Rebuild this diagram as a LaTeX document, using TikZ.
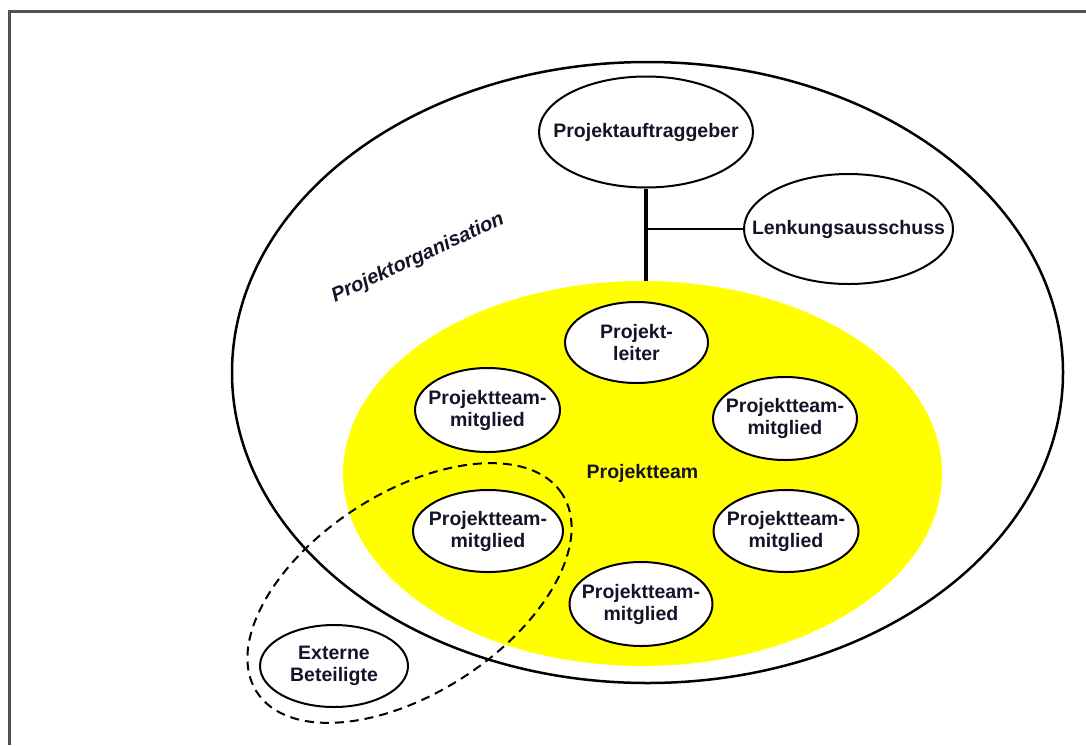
\documentclass[tikz,border=0pt]{standalone}
\usepackage{fontspec}
\setmainfont{Liberation Sans}
\usetikzlibrary{shapes.geometric}
\definecolor{teamyellow}{RGB}{255,255,0}
\definecolor{framegray}{RGB}{80,80,80}
\definecolor{txt}{RGB}{20,20,40}
\begin{document}
\begin{tikzpicture}[x=1pt,y=-1pt,
  lbl/.style={text=txt, align=center, inner sep=0pt, font=\fontsize{19.5}{22}\selectfont\bfseries},
  role/.style={ellipse, draw=black, line width=2pt, fill=white, inner sep=0pt,
    label={[lbl]center:#1}},
  big/.style={ellipse, inner sep=0pt}
]
\useasboundingbox (0,0) rectangle (1086,745);
\fill[white] (0,0) rectangle (1086,745);
\draw[framegray, line width=2.5pt] (9.5,745) -- (9.5,11.5) -- (1086,11.5);

\node[big, draw=black, line width=2.5pt, fill=white, minimum width=831pt, minimum height=621pt] (org) at (647.5,372.5) {};
\node[big, fill=teamyellow, minimum width=599pt, minimum height=385pt, label={[lbl]center:Projektteam}] (team) at (642.5,473.5) {};

\node[lbl, rotate=25, font=\fontsize{20}{24}\selectfont\bfseries\itshape] (orglabel) at (418,258) {Projektorganisation};

\node[role=Projektauftraggeber, minimum width=214pt, minimum height=111pt] (pa) at (646,132) {};
\node[role=Lenkungsausschuss, minimum width=209pt, minimum height=110pt] (lk) at (848.5,229) {};

\draw[line width=4.5pt] (pa.south) -- (pa.south |- team.north);
\draw[line width=2pt] (pa.south |- lk.west) -- (lk.west);

\node[role={Projekt-\\leiter}, minimum width=143pt, minimum height=81pt] (pl) at (636.5,342.5) {};
\node[role={Projektteam-\\mitglied}, minimum width=145pt, minimum height=84pt] (m1) at (487.5,410) {};
\node[role={Projektteam-\\mitglied}, minimum width=144pt, minimum height=83pt] (m2) at (785,418.5) {};
\node[role={Projektteam-\\mitglied}, minimum width=150pt, minimum height=82pt] (m3) at (488,531) {};
\node[role={Projektteam-\\mitglied}, minimum width=145pt, minimum height=82pt] (m4) at (786,531) {};
\node[role={Projektteam-\\mitglied}, minimum width=143pt, minimum height=84pt] (m5) at (641,604) {};
\node[role={Externe\\Beteiligte}, minimum width=148pt, minimum height=82pt] (ext) at (334,666) {};

\node[big, draw=black, line width=2pt, dash pattern=on 9pt off 6pt, rotate=33,
  minimum width=364pt, minimum height=200pt] (extgroup) at (409.5,593) {};
\end{tikzpicture}
\end{document}
